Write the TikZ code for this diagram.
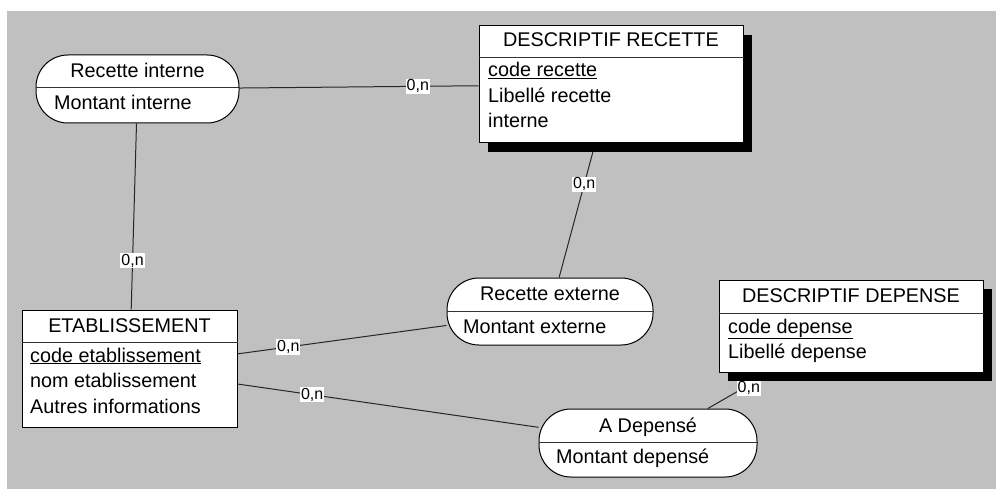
\documentclass[tikz,border=0pt]{standalone}
\usepackage{fontspec}
\setmainfont{Liberation Sans}
\usetikzlibrary{shadows}
\pgfdeclarelayer{back}
\pgfdeclarelayer{links}
\pgfsetlayers{back,links,main}
\definecolor{canvas}{RGB}{192,192,192}
\begin{document}
\begin{tikzpicture}[x=1pt,y=-1pt,
  box/.style={draw=black, line width=1pt, fill=white, inner sep=0pt},
  entity/.style={box, rectangle},
  assoc/.style={box, rectangle, rounded corners=32pt},
  shade/.style={drop shadow={shadow xshift=9pt, shadow yshift=-9pt, fill=black, opacity=1}},
  title/.style={anchor=base, inner sep=0pt, font=\fontsize{19.8}{23}\selectfont},
  attr/.style={anchor=base west, inner sep=0pt, font=\fontsize{19.8}{23}\selectfont},
  divider/.style={line width=1pt, draw=black!80},
  link/.style={line width=1pt, draw=black!85},
  card/.style={fill=white, inner sep=1pt, font=\fontsize{16}{19}\selectfont}
]
\useasboundingbox (0,0) rectangle (996,489);
\begin{pgfonlayer}{back}
  \fill[canvas] (7,11) rectangle (996,489);
\end{pgfonlayer}

% entities
\node[entity, shade, minimum width=264pt, minimum height=117pt] (dr) at (611,84.5) {};
\node[entity, minimum width=215pt, minimum height=117pt] (et) at (129.5,368.5) {};
\node[entity, shade, minimum width=264pt, minimum height=92pt] (dd) at (851,326) {};

% associations
\node[assoc, minimum width=203pt, minimum height=68pt] (ri) at (137.5,89) {};
\node[assoc, minimum width=206pt, minimum height=67pt] (re) at (550,311.5) {};
\node[assoc, minimum width=218pt, minimum height=68pt] (ad) at (648,443) {};

% separators between name and properties
\draw[divider] (dr.west |- 0,58) -- (dr.east |- 0,58);
\draw[divider] (et.west |- 0,342) -- (et.east |- 0,342);
\draw[divider] (dd.west |- 0,313) -- (dd.east |- 0,313);
\draw[divider] (ri.west |- 0,88) -- (ri.east |- 0,88);
\draw[divider] (re.west |- 0,311) -- (re.east |- 0,311);
\draw[divider] (ad.west |- 0,442) -- (ad.east |- 0,442);

% texts
\node[title] (drt) at (611,47) {DESCRIPTIF RECETTE};
\node[attr] (dr1) at (488,77) {\underline{code recette}};
\node[attr] (dr2) at (488,103) {Libellé recette};
\node[attr] (dr3) at (488,128) {interne};

\node[title] (ett) at (129.5,332) {ETABLISSEMENT};
\node[attr] (et1) at (30,362) {\underline{code etablissement}};
\node[attr] (et2) at (30,387) {nom etablissement};
\node[attr] (et3) at (30,413) {Autres informations};

\node[title] (ddt) at (851,302) {DESCRIPTIF DEPENSE};
\node[attr] (dd1) at (728,333) {\underline{code depense}};
\node[attr] (dd2) at (728,358) {Libellé depense};

\node[title] (rit) at (137.5,78) {Recette interne};
\node[attr] (ri1) at (54,110) {Montant interne};

\node[title] (ret) at (550,300) {Recette externe};
\node[attr] (re1) at (463,333) {Montant externe};

\node[title] (adt) at (648,432) {A Depensé};
\node[attr] (ad1) at (556,463) {Montant depensé};

% links with cardinalities
\begin{pgfonlayer}{links}
  \draw[link] (ri) -- node[card, pos=0.746] (c1) {0,n} (dr);
  \draw[link] (ri) -- node[card, pos=0.738] (c2) {0,n} (et);
  \draw[link] (dr) -- node[card, pos=0.304] (c3) {0,n} (re);
  \draw[link] (et) -- node[card, pos=0.243] (c4) {0,n} (re);
  \draw[link] (et) -- node[card, pos=0.248] (c5) {0,n} (ad);
  \draw[link] (ad) -- node[card, pos=0.56, xshift=6pt] (c6) {0,n} (dd);
\end{pgfonlayer}
\end{tikzpicture}
\end{document}
